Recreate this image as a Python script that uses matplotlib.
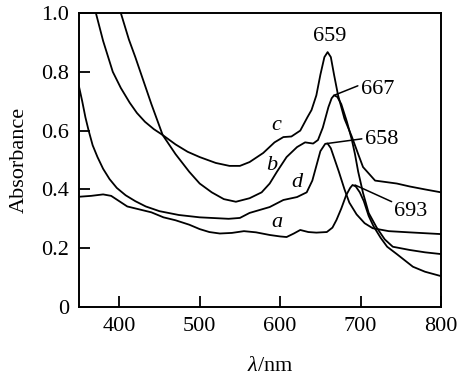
import matplotlib
matplotlib.use('Agg')
import matplotlib.pyplot as plt

plt.rcParams['font.family'] = 'serif'
plt.rcParams['font.serif'] = ['Liberation Serif', 'TeX Gyre Termes', 'DejaVu Serif']
plt.rcParams['mathtext.fontset'] = 'custom'
plt.rcParams['mathtext.it'] = 'Liberation Serif:italic'
plt.rcParams['mathtext.rm'] = 'Liberation Serif'

# curve a
a_wl = [350, 365, 380, 390, 400, 410, 425, 440, 455, 470, 487, 500, 512, 525, 540, 555,
        570, 587, 600, 608, 617, 625, 635, 645, 658, 665, 670, 676, 682, 687, 690, 694,
        699, 704, 710, 716, 725, 733, 745, 765, 780, 800]
a_abs = [0.375, 0.378, 0.383, 0.378, 0.36, 0.342, 0.332, 0.322, 0.305, 0.295, 0.28, 0.265,
         0.255, 0.25, 0.252, 0.258, 0.254, 0.245, 0.24, 0.238, 0.25, 0.262, 0.255, 0.253,
         0.255, 0.27, 0.296, 0.335, 0.38, 0.405, 0.415, 0.41, 0.39, 0.36, 0.31, 0.275,
         0.235, 0.205, 0.18, 0.137, 0.12, 0.105]

# curve b
b_wl = [396, 402, 412, 420, 430, 440, 454, 470, 487, 500, 515, 530, 545, 562, 577, 587,
        596, 608, 621, 631, 641, 647, 653, 660, 664, 667, 671, 676, 683, 689, 693, 697,
        703, 710, 720, 730, 740, 761, 780, 800]
b_abs = [1.05, 1.0, 0.91, 0.85, 0.77, 0.69, 0.585, 0.52, 0.46, 0.42, 0.39, 0.367, 0.358,
         0.37, 0.39, 0.42, 0.46, 0.51, 0.544, 0.56, 0.556, 0.568, 0.61, 0.68, 0.71, 0.72,
         0.715, 0.69, 0.63, 0.57, 0.52, 0.46, 0.388, 0.32, 0.27, 0.23, 0.205, 0.194, 0.186,
         0.18]

# curve c
c_wl = [362, 371, 380, 392, 402, 413, 422, 432, 443, 454, 470, 485, 500, 520, 537, 550,
        562, 579, 593, 604, 614, 625, 634, 639, 645, 650, 655, 659, 663, 667, 672, 680,
        689, 697, 703, 718, 745, 761, 780, 800]
c_abs = [1.1, 1.0, 0.905, 0.80, 0.745, 0.695, 0.66, 0.63, 0.605, 0.585, 0.553, 0.528,
         0.51, 0.49, 0.48, 0.48, 0.493, 0.524, 0.56, 0.578, 0.58, 0.60, 0.646, 0.67, 0.72,
         0.79, 0.85, 0.867, 0.85, 0.79, 0.72, 0.64, 0.58, 0.52, 0.476, 0.43, 0.42, 0.41,
         0.40, 0.39]

# curve d
d_wl = [350, 354, 358, 362, 367, 373, 380, 388, 397, 408, 420, 433, 450, 474, 500, 536,
        550, 562, 587, 604, 621, 633, 640, 645, 650, 656, 659, 663, 668, 673, 680, 686,
        695, 705, 715, 735, 760, 800]
d_abs = [0.75, 0.70, 0.645, 0.60, 0.55, 0.51, 0.47, 0.435, 0.405, 0.38, 0.36, 0.342,
         0.326, 0.313, 0.305, 0.30, 0.303, 0.32, 0.34, 0.364, 0.374, 0.39, 0.43, 0.48,
         0.53, 0.555, 0.556, 0.54, 0.50, 0.46, 0.40, 0.355, 0.315, 0.285, 0.268, 0.258,
         0.254, 0.248]

# peak labels
peak_txt = ['659', '667', '658', '693']
peak_wl = [659, 667, 658, 693]
peak_abs = [0.867, 0.72, 0.556, 0.415]
txt_x = [661, 700, 705, 742]
txt_y = [0.92, 0.74, 0.57, 0.325]

fig = plt.figure(figsize=(4.66, 3.76), dpi=100)
ax = fig.add_axes([0.1695, 0.1835, 0.777, 0.7819])

for wl, ab in [(a_wl, a_abs), (b_wl, b_abs), (c_wl, c_abs), (d_wl, d_abs)]:
    ax.plot(wl, ab, color='black', lw=1.3, solid_joinstyle='round')

# 659 sits right above its peak, the others have leader lines
ax.text(txt_x[0], txt_y[0], peak_txt[0], ha='center', va='center', fontsize=16)
rel = [None, (0, 0.75), (0, 0.55), (0, 0.95)]
for i in range(1, 4):
    ax.annotate(peak_txt[i], xy=(peak_wl[i], peak_abs[i]), xytext=(txt_x[i], txt_y[i]),
                ha='left', va='center', fontsize=16,
                arrowprops=dict(arrowstyle='-', color='black', lw=1.1,
                                shrinkA=0, shrinkB=0, relpos=rel[i]))

# curve letters
ax.text(595, 0.619, 'c', style='italic', fontsize=16, ha='center', va='center')
ax.text(590, 0.48, 'b', style='italic', fontsize=16, ha='center', va='center')
ax.text(621, 0.425, 'd', style='italic', fontsize=16, ha='center', va='center')
ax.text(596, 0.286, 'a', style='italic', fontsize=16, ha='center', va='center')

ax.set_xlim(350, 800)
ax.set_ylim(0, 1.0)
ax.set_xticks([400, 500, 600, 700, 800])
ax.set_yticks([0, 0.2, 0.4, 0.6, 0.8, 1.0])
ax.set_yticklabels(['0', '0.2', '0.4', '0.6', '0.8', '1.0'])
ax.tick_params(direction='in', length=8, width=1.3, labelsize=16)
ax.tick_params(axis='y', pad=7)
ax.tick_params(axis='x', pad=7)
for s in ax.spines.values():
    s.set_linewidth(1.4)

ax.set_ylabel('Absorbance', fontsize=16)
ax.yaxis.set_label_coords(-0.14, 0.5)
ax.set_xlabel(r'$\mathit{\lambda}$/nm', fontsize=16)
ax.xaxis.set_label_coords(0.528, -0.17)

fig.savefig('out.png', dpi=100)
